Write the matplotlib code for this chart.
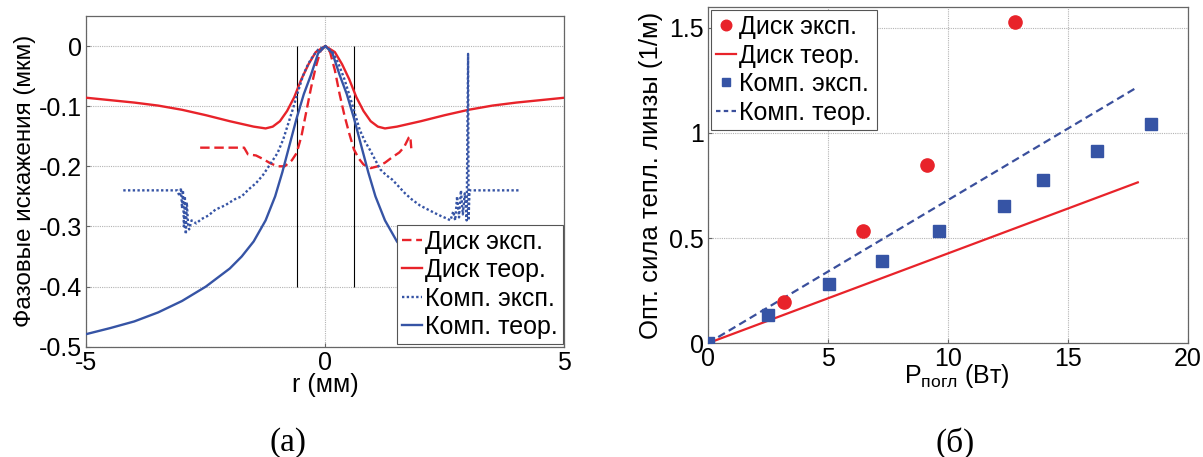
import matplotlib
matplotlib.use("Agg")
import matplotlib.pyplot as plt
from matplotlib.ticker import FixedLocator, FixedFormatter

plt.rcParams['font.family'] = ['Liberation Sans', 'DejaVu Sans']
plt.rcParams['axes.unicode_minus'] = False

# ---------------- Panel (а): phase distortions ----------------
disk_exp_r = [-2.62, -1.70, -1.62, -1.45, -1.30, -1.15, -1.00, -0.85, -0.70, -0.60, -0.50, -0.40,
              -0.30, -0.20, -0.10, 0.00, 0.10, 0.20, 0.30, 0.40, 0.50, 0.60, 0.70, 0.80, 0.95,
              1.10, 1.25, 1.40, 1.55, 1.65, 1.75, 1.78, 1.80]
disk_exp_v = [-0.169, -0.169, -0.180, -0.182, -0.188, -0.195, -0.200, -0.200, -0.190, -0.178, -0.150, -0.110,
              -0.070, -0.035, -0.008, 0.000, -0.010, -0.040, -0.080, -0.115, -0.145, -0.172, -0.187, -0.197, -0.203,
              -0.200, -0.194, -0.185, -0.177, -0.168, -0.152, -0.150, -0.170]

disk_teor_r = [-5.0, -4.5, -4.0, -3.5, -3.0, -2.5, -2.0, -1.5, -1.25, -1.1, -0.95, -0.8, -0.65, -0.5, -0.35,
               -0.2, 0.0, 0.2, 0.35, 0.5, 0.65, 0.8, 0.95, 1.1, 1.25, 1.5, 2.0, 2.5, 3.0, 3.5, 4.0, 4.5, 5.0]
disk_teor_v = [-0.086, -0.090, -0.094, -0.099, -0.106, -0.115, -0.125, -0.134, -0.137, -0.134, -0.125, -0.108,
               -0.085, -0.055, -0.030, -0.010, 0.000, -0.010, -0.030, -0.055, -0.085, -0.108, -0.125, -0.134,
               -0.137, -0.134, -0.125, -0.115, -0.106, -0.099, -0.094, -0.090, -0.086]

comp_exp_r = [-4.23, -3.10, -3.05, -3.02, -3.00, -2.98, -2.96, -2.94, -2.92, -2.90, -2.87, -2.85, -2.80,
              -2.70, -2.60, -2.45, -2.30, -2.10, -1.90, -1.75, -1.60, -1.45, -1.30, -1.15, -1.00, -0.88,
              -0.78, -0.68, -0.58, -0.47, -0.36, -0.26, -0.15, 0.00, 0.15, 0.27, 0.40, 0.51, 0.62, 0.72,
              0.82, 0.93, 1.05, 1.15, 1.28, 1.40, 1.53, 1.67, 1.81, 1.98, 2.15, 2.30, 2.43, 2.55, 2.62,
              2.68, 2.72, 2.76, 2.80, 2.84, 2.88, 2.92, 2.96, 2.99, 3.00, 3.02, 4.07]
comp_exp_v = [-0.240, -0.240, -0.250, -0.236, -0.270, -0.240, -0.300, -0.250, -0.313, -0.260, -0.300, -0.305, -0.290,
              -0.295, -0.288, -0.282, -0.272, -0.265, -0.255, -0.250, -0.238, -0.228, -0.214, -0.196, -0.178, -0.155,
              -0.130, -0.105, -0.078, -0.050, -0.030, -0.017, -0.006, 0.000, -0.010, -0.028, -0.055, -0.083, -0.112, -0.139,
              -0.157, -0.172, -0.190, -0.205, -0.215, -0.222, -0.233, -0.245, -0.255, -0.265, -0.272, -0.278, -0.283, -0.287, -0.290,
              -0.275, -0.290, -0.250, -0.285, -0.240, -0.280, -0.245, -0.290, -0.013, -0.290, -0.240, -0.240]

comp_teor_r = [-5.0, -4.5, -4.0, -3.5, -3.0, -2.5, -2.0, -1.75, -1.5, -1.25, -1.05, -0.9, -0.75, -0.6, -0.45,
               -0.3, -0.15, 0.0, 0.15, 0.3, 0.45, 0.6, 0.75, 0.9, 1.05, 1.25, 1.5, 1.75, 2.0, 2.5, 3.0,
               3.5, 4.0, 4.5, 5.0]
comp_teor_v = [-0.479, -0.469, -0.458, -0.443, -0.424, -0.400, -0.370, -0.350, -0.325, -0.290, -0.250, -0.210,
               -0.165, -0.120, -0.080, -0.048, -0.012, 0.000, -0.012, -0.048, -0.080, -0.120, -0.165, -0.210,
               -0.250, -0.290, -0.325, -0.350, -0.370, -0.400, -0.424, -0.443, -0.458, -0.469, -0.479]

pump_r = [-0.6, 0.6]
pump_lo, pump_hi = -0.4, 0.0

left_xticks = [-5, 0, 5]
left_yticks = [0, -0.1, -0.2, -0.3, -0.4, -0.5]
left_yticklabels = ['0', '-0.1', '-0.2', '-0.3', '-0.4', '-0.5']

# ---------------- Panel (б): thermal lens power ----------------
disk_exp_p = [3.19, 6.46, 9.15, 12.80]
disk_exp_d = [0.198, 0.536, 0.848, 1.529]
disk_teor_p = [0.0, 17.92]
disk_teor_d = [0.0, 0.765]
comp_exp_p = [0.0, 2.50, 5.07, 7.28, 9.62, 12.36, 13.98, 16.22, 18.47]
comp_exp_d = [0.0, 0.135, 0.281, 0.392, 0.535, 0.651, 0.776, 0.916, 1.041]
comp_teor_p = [0.0, 17.92]
comp_teor_d = [0.0, 1.219]

right_xticks = [0, 5, 10, 15, 20]
right_yticks = [0, 0.5, 1, 1.5]
right_yticklabels = ['0', '0.5', '1', '1.5']

RED = '#e8232a'
BLUE = '#3654a5'
NAVY = '#3a4f9c'
GRID = '#b4b4b4'
FS = 18

fig = plt.figure(figsize=(12.03, 4.57), dpi=100)

def style(ax):
    ax.grid(True, color=GRID, linestyle=(0, (1, 1)), linewidth=0.8)
    ax.set_axisbelow(True)
    for s in ax.spines.values():
        s.set_color('#666666')
        s.set_linewidth(0.9)
    ax.tick_params(direction='in', length=3, color='#666666', labelsize=FS, pad=3)

# ----- left -----
ax1 = fig.add_axes([0.0719, 0.2414, 0.397, 0.7236])
style(ax1)
ax1.vlines(pump_r, pump_lo, pump_hi, colors='black', linewidth=0.8, zorder=2)
ax1.plot(disk_exp_r, disk_exp_v, color=RED, linestyle=(0, (4, 2)), linewidth=1.7, label='Диск эксп.', zorder=3)
ax1.plot(disk_teor_r, disk_teor_v, color=RED, linestyle='-', linewidth=1.7, label='Диск теор.', zorder=3)
ax1.plot(comp_exp_r, comp_exp_v, color=BLUE, linestyle=(0, (1, 1)), linewidth=1.7, label='Комп. эксп.', zorder=3)
ax1.plot(comp_teor_r, comp_teor_v, color=BLUE, linestyle='-', linewidth=1.7, label='Комп. теор.', zorder=3)
ax1.set_xlim(-5, 5)
ax1.set_ylim(-0.5, 0.05)
ax1.xaxis.set_major_locator(FixedLocator(left_xticks))
ax1.yaxis.set_major_locator(FixedLocator(left_yticks))
ax1.yaxis.set_major_formatter(FixedFormatter(left_yticklabels))
ax1.set_xlabel('r (мм)', fontsize=FS, labelpad=-1)
ax1.set_ylabel('Фазовые искажения (мкм)', fontsize=17.5, labelpad=2)
leg1 = ax1.legend(loc='lower right', bbox_to_anchor=(0.998, 0.008), borderaxespad=0,
                  fontsize=FS, handlelength=0.8, handletextpad=0.12, labelspacing=0.18,
                  borderpad=0.2, fancybox=False, framealpha=1, edgecolor='#555555')
leg1.get_frame().set_linewidth(0.8)

# ----- right -----
ax2 = fig.add_axes([0.5883, 0.2488, 0.399, 0.7365])
style(ax2)
ax2.plot(disk_teor_p, disk_teor_d, color=RED, linestyle='-', linewidth=1.6, zorder=3)
ax2.plot(comp_teor_p, comp_teor_d, color=NAVY, linestyle=(0, (3.5, 2)), linewidth=1.6, zorder=3)
h_de, = ax2.plot(disk_exp_p, disk_exp_d, linestyle='none', marker='o', markersize=9.5,
                 color=RED, markeredgecolor=RED, zorder=4)
h_ce, = ax2.plot(comp_exp_p, comp_exp_d, linestyle='none', marker='s', markersize=8,
                 color=BLUE, markeredgecolor=BLUE, zorder=4)
h_dt, = ax2.plot([], [], color=RED, linestyle='-', linewidth=1.6)
h_ct, = ax2.plot([], [], color=NAVY, linestyle=(0, (2, 1.5)), linewidth=1.6)
ax2.set_xlim(0, 20)
ax2.set_ylim(0, 1.6)
ax2.xaxis.set_major_locator(FixedLocator(right_xticks))
ax2.yaxis.set_major_locator(FixedLocator(right_yticks))
ax2.yaxis.set_major_formatter(FixedFormatter(right_yticklabels))
ax2.set_xlabel('P$_{\\mathregular{погл}}$ (Вт)', fontsize=FS)
ax2.xaxis.set_label_coords(0.52, -0.055, transform=ax2.transAxes)
ax2.xaxis.label.set_verticalalignment('top')
ax2.set_ylabel('Опт. сила тепл. линзы (1/м)', fontsize=18.5, labelpad=4)
leg2 = ax2.legend([h_de, h_dt, h_ce, h_ct], ['Диск эксп.', 'Диск теор.', 'Комп. эксп.', 'Комп. теор.'],
                  loc='upper left', bbox_to_anchor=(0.007, 0.99), borderaxespad=0,
                  fontsize=FS, handlelength=0.8, handletextpad=0.12, labelspacing=0.18,
                  borderpad=0.2, fancybox=False, framealpha=1, edgecolor='#555555',
                  markerscale=0.8)
leg2.get_frame().set_linewidth(0.8)

# ----- panel captions -----
fig.text(288 / 1203, 1 - 443 / 457, '(а)', fontsize=24, family=['Liberation Serif', 'DejaVu Serif'],
         ha='center', va='center')
fig.text(955 / 1203, 1 - 443 / 457, '(б)', fontsize=24, family=['Liberation Serif', 'DejaVu Serif'],
         ha='center', va='center')

fig.savefig('out.png', dpi=100)
